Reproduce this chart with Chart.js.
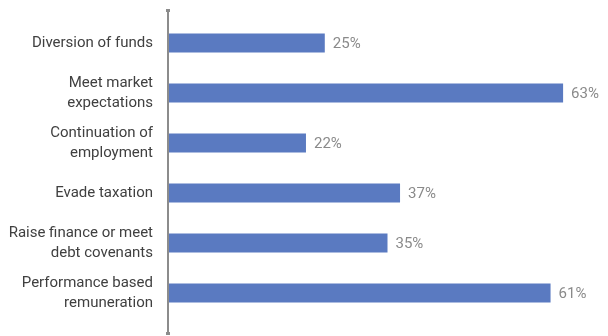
<!DOCTYPE html>
<html>
<head>
<meta charset="utf-8">
<script src="https://cdn.jsdelivr.net/npm/chart.js@4"></script>
<style>
  html, body { margin: 0; padding: 0; background: #fff; }
  #wrap { width: 608px; height: 336px; }
</style>
</head>
<body>
<div id="wrap"><canvas id="barChart" width="608" height="336"></canvas></div>
<script>
const categories = [
  ['Diversion of funds'],
  ['Meet market', 'expectations'],
  ['Continuation of', 'employment'],
  ['Evade taxation'],
  ['Raise finance or meet', 'debt covenants'],
  ['Performance based', 'remuneration'],
];
const values = [25, 63, 22, 37, 35, 61];

// condensed font if we have one, otherwise plain Roboto a bit smaller
function hasFont(name) {
  const c = document.createElement('canvas').getContext('2d');
  const probe = 'Diversion of funds 0123%';
  c.font = '18px monospace';
  const mono = c.measureText(probe).width;
  c.font = `18px '${name}', monospace`;
  return c.measureText(probe).width !== mono;
}
const narrow = hasFont('Liberation Sans Narrow');
const fontFamily = narrow ? "'Liberation Sans Narrow'" : 'Roboto';
const fontSize = narrow ? 18 : 15;

const barLabels = {
  id: 'barLabels',
  afterDatasetsDraw(chart) {
    const ctx = chart.ctx;
    const meta = chart.getDatasetMeta(0);
    ctx.save();
    ctx.font = `${fontSize}px ${fontFamily}`;
    ctx.fillStyle = '#8a8a8a';
    ctx.textAlign = 'left';
    ctx.textBaseline = 'middle';
    meta.data.forEach((bar, i) => {
      ctx.fillText(values[i] + '%', bar.x + 8, bar.y + 1);
    });

    // vertical axis line, runs a bit past the plot area
    const x = chart.chartArea.left;
    const top = chart.chartArea.top - 8;
    const bottom = chart.chartArea.bottom + 16;
    ctx.strokeStyle = '#8c8c8c';
    ctx.lineWidth = 2;
    ctx.beginPath();
    ctx.moveTo(x, top);
    ctx.lineTo(x, bottom);
    ctx.stroke();
    ctx.fillStyle = '#8c8c8c';
    ctx.fillRect(x - 2, top - 1, 4, 3);
    ctx.fillRect(x - 2, bottom - 2, 4, 3);
    ctx.restore();
  },
};

const ctx = document.getElementById('barChart').getContext('2d');

new Chart(ctx, {
  type: 'bar',
  data: {
    labels: categories,
    datasets: [
      {
        data: values,
        backgroundColor: '#5a7ac1',
        borderWidth: 0,
        categoryPercentage: 0.38,
        barPercentage: 1.0,
      },
    ],
  },
  options: {
    indexAxis: 'y',
    responsive: false,
    animation: false,
    layout: {
      padding: { top: 18, bottom: 18, left: 0, right: 1 },
    },
    plugins: {
      legend: { display: false },
      tooltip: { enabled: false },
    },
    scales: {
      x: {
        display: false,
        min: 0,
        max: 70,
      },
      y: {
        grid: { display: false, drawTicks: false },
        border: { display: false },
        ticks: {
          color: '#404040',
          padding: 15,
          font: { family: fontFamily, size: fontSize, lineHeight: 1.35 },
        },
        afterFit: (scale) => {
          scale.width = 168;
          scale.paddingTop = 0;
          scale.paddingBottom = 0;
        },
      },
    },
  },
  plugins: [barLabels],
});
</script>
</body>
</html>
